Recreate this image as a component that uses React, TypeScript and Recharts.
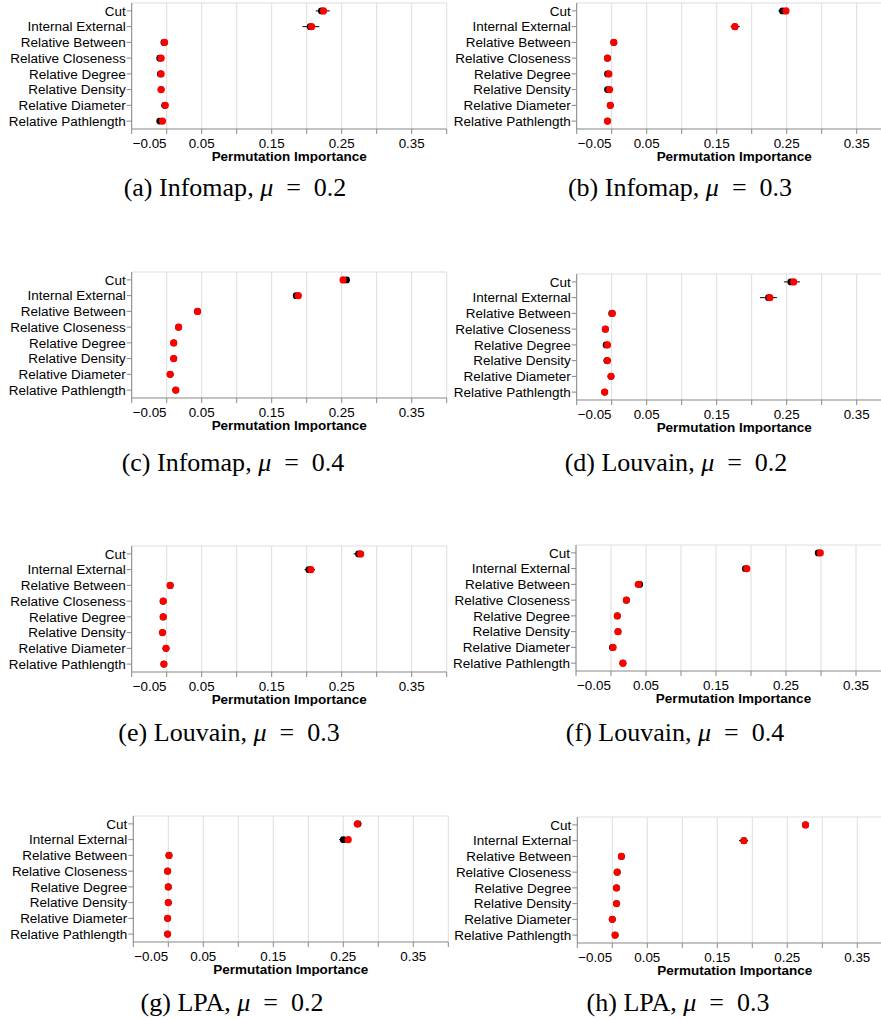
import { ScatterChart, Scatter, XAxis, YAxis, CartesianGrid, ErrorBar } from "recharts"

const features = [
  "Cut",
  "Internal External",
  "Relative Between",
  "Relative Closeness",
  "Relative Degree",
  "Relative Density",
  "Relative Diameter",
  "Relative Pathlength",
]

const xTicks = [-0.05, 0, 0.05, 0.1, 0.15, 0.2, 0.25, 0.3, 0.35, 0.4]
const xLabelTicks = [-0.05, 0.05, 0.15, 0.25, 0.35]

// (a) Infomap, mu = 0.2
const infomap02Red = [0.224, 0.207, -0.003, -0.008, -0.008, -0.008, -0.002, -0.006]
const infomap02Black = [0.221, 0.205, -0.004, -0.01, -0.009, -0.008, -0.003, -0.01]
const infomap02Low = [0.213, 0.194, -0.005, -0.011, -0.01, -0.009, -0.004, -0.011]
const infomap02High = [0.233, 0.218, -0.002, -0.008, -0.008, -0.007, -0.002, -0.008]

// (b) Infomap, mu = 0.3
const infomap03Red = [0.249, 0.176, 0.003, -0.006, -0.004, -0.003, -0.002, -0.006]
const infomap03Black = [0.244, 0.176, 0.003, -0.006, -0.006, -0.006, -0.002, -0.006]
const infomap03Low = [0.238, 0.17, 0.002, -0.007, -0.007, -0.007, -0.003, -0.007]
const infomap03High = [0.252, 0.183, 0.004, -0.005, -0.004, -0.003, -0.001, -0.005]

// (c) Infomap, mu = 0.4
const infomap04Red = [0.252, 0.188, 0.044, 0.017, 0.01, 0.01, 0.005, 0.013]
const infomap04Black = [0.257, 0.185, 0.044, 0.017, 0.01, 0.01, 0.005, 0.013]
const infomap04Low = [0.25, 0.183, 0.043, 0.016, 0.009, 0.009, 0.004, 0.012]
const infomap04High = [0.26, 0.19, 0.045, 0.018, 0.011, 0.011, 0.006, 0.014]

// (d) Louvain, mu = 0.2
const louvain02Red = [0.26, 0.226, 0.001, -0.009, -0.006, -0.006, -0.001, -0.01]
const louvain02Black = [0.256, 0.224, 0.0, -0.009, -0.008, -0.007, -0.001, -0.01]
const louvain02Low = [0.246, 0.212, -0.001, -0.01, -0.009, -0.008, -0.002, -0.011]
const louvain02High = [0.269, 0.236, 0.002, -0.008, -0.006, -0.005, 0.0, -0.009]

// (e) Louvain, mu = 0.3
const louvain03Red = [0.277, 0.206, 0.005, -0.005, -0.005, -0.006, -0.001, -0.004]
const louvain03Black = [0.274, 0.203, 0.005, -0.005, -0.005, -0.006, -0.001, -0.004]
const louvain03Low = [0.267, 0.197, 0.004, -0.006, -0.006, -0.007, -0.002, -0.005]
const louvain03High = [0.281, 0.212, 0.006, -0.004, -0.004, -0.005, 0.0, -0.003]

// (f) Louvain, mu = 0.4
const louvain04Red = [0.299, 0.194, 0.039, 0.022, 0.009, 0.01, 0.003, 0.017]
const louvain04Black = [0.296, 0.192, 0.041, 0.022, 0.009, 0.01, 0.002, 0.017]
const louvain04Low = [0.292, 0.187, 0.039, 0.021, 0.008, 0.009, 0.001, 0.016]
const louvain04High = [0.301, 0.197, 0.042, 0.023, 0.01, 0.011, 0.004, 0.018]

// (g) LPA, mu = 0.2
const lpa02Red = [0.27, 0.257, 0.001, -0.001, 0.0, 0.0, -0.001, -0.001]
const lpa02Black = [0.271, 0.25, 0.001, -0.001, 0.0, 0.0, -0.001, -0.001]
const lpa02Low = [0.265, 0.244, 0.0, -0.002, -0.001, -0.001, -0.002, -0.002]
const lpa02High = [0.276, 0.255, 0.002, 0.0, 0.001, 0.001, 0.0, 0.0]

// (h) LPA, mu = 0.3
const lpa03Red = [0.276, 0.188, 0.013, 0.007, 0.006, 0.006, 0.0, 0.004]
const lpa03Black = [0.276, 0.188, 0.013, 0.007, 0.006, 0.006, 0.0, 0.004]
const lpa03Low = [0.275, 0.181, 0.012, 0.006, 0.005, 0.005, -0.001, 0.003]
const lpa03High = [0.277, 0.194, 0.014, 0.008, 0.007, 0.007, 0.001, 0.005]

const letters = ["a", "b", "c", "d", "e", "f", "g", "h"]
const methods = ["Infomap", "Infomap", "Infomap", "Louvain", "Louvain", "Louvain", "LPA", "LPA"]
const mus = ["0.2", "0.3", "0.4", "0.2", "0.3", "0.4", "0.2", "0.3"]

const panels = [
  { red: infomap02Red, black: infomap02Black, low: infomap02Low, high: infomap02High, left: 0, plotLeft: 131.7, plotTop: 3.3, capX: 235, capY: 188 },
  { red: infomap03Red, black: infomap03Black, low: infomap03Low, high: infomap03High, left: 440, plotLeft: 576.7, plotTop: 3.3, capX: 680, capY: 188 },
  { red: infomap04Red, black: infomap04Black, low: infomap04Low, high: infomap04High, left: 0, plotLeft: 131.7, plotTop: 272, capX: 233, capY: 463 },
  { red: louvain02Red, black: louvain02Black, low: louvain02Low, high: louvain02High, left: 440, plotLeft: 576.7, plotTop: 273.8, capX: 676, capY: 463 },
  { red: louvain03Red, black: louvain03Black, low: louvain03Low, high: louvain03High, left: 0, plotLeft: 131.7, plotTop: 546, capX: 229, capY: 733 },
  { red: louvain04Red, black: louvain04Black, low: louvain04Low, high: louvain04High, left: 440, plotLeft: 576, plotTop: 545.3, capX: 675, capY: 733 },
  { red: lpa02Red, black: lpa02Black, low: lpa02Low, high: lpa02High, left: 0, plotLeft: 133.3, plotTop: 816, capX: 232, capY: 1003 },
  { red: lpa03Red, black: lpa03Black, low: lpa03Low, high: lpa03High, left: 440, plotLeft: 577.3, plotTop: 817, capX: 678, capY: 1003 },
]

const PLOT_W = 315
const PLOT_H = 126
const X_AXIS_H = 34
const FONT = "'Liberation Sans', Arial, sans-serif"

const fmt = (v: number) => (v < 0 ? "\u2212" + Math.abs(v).toFixed(2) : v.toFixed(2))

const XTick = (props: any) => {
  const { x, y, payload } = props
  if (!xLabelTicks.includes(payload.value)) return <g />
  const first = payload.value === xLabelTicks[0]
  return (
    <text x={first ? x + 1 : x} y={y} dy={12} textAnchor={first ? "start" : "middle"} fill="#000" fontSize={13.4} fontFamily={FONT}>
      {fmt(payload.value)}
    </text>
  )
}

const RedDot = (props: any) => <circle cx={props.cx} cy={props.cy} r={3.6} fill="#ff0000" />
const BlackDot = (props: any) => <circle cx={props.cx} cy={props.cy} r={3.4} fill="#000" />

function Panel({ red, black, low, high, left, plotLeft, plotTop }: any) {
  const redData = features.map((f, i) => ({ feature: f, v: red[i] }))
  const blackData = features.map((f, i) => ({ feature: f, v: black[i], err: [black[i] - low[i], high[i] - black[i]] }))
  const yAxisW = plotLeft - left
  const top = plotTop - 4
  return (
    <div style={{ position: "absolute", left, top }}>
      <ScatterChart width={yAxisW + PLOT_W + 4} height={4 + PLOT_H + X_AXIS_H} margin={{ top: 4, right: 4, bottom: 0, left: 0 }}>
        <CartesianGrid
          stroke="#dddddd"
          horizontalCoordinatesGenerator={({ offset }: any) => [offset.top]}
        />
        <XAxis
          type="number"
          dataKey="v"
          domain={[-0.05, 0.4]}
          ticks={xTicks}
          interval={0}
          height={X_AXIS_H}
          stroke="#888"
          tickSize={5}
          tickMargin={2}
          tick={<XTick />}
          label={{ value: "Permutation Importance", position: "insideBottom", offset: 2, fill: "#000", fontSize: 13.5, fontWeight: "bold", fontFamily: FONT }}
        />
        <YAxis
          type="category"
          dataKey="feature"
          allowDuplicatedCategory={false}
          reversed
          width={yAxisW}
          interval={0}
          stroke="#888"
          tickSize={5}
          tickMargin={1}
          tick={{ fill: "#000", fontSize: 13.5, fontFamily: FONT }}
        />
        <Scatter data={blackData} shape={BlackDot} isAnimationActive={false}>
          <ErrorBar dataKey="err" direction="x" width={0} stroke="#000" strokeWidth={1} />
        </Scatter>
        <Scatter data={redData} shape={RedDot} isAnimationActive={false} />
      </ScatterChart>
    </div>
  )
}

export default function App() {
  return (
    <div style={{ position: "absolute", left: 0, top: 0, width: 881, height: 1020, overflow: "hidden", background: "#fff" }}>
      {panels.map((p, i) => (
        <Panel key={i} {...p} />
      ))}
      {panels.map((p, i) => (
        <div
          key={"c" + i}
          style={{
            position: "absolute",
            left: p.capX - 200,
            top: p.capY - 15,
            width: 400,
            height: 30,
            lineHeight: "30px",
            textAlign: "center",
            fontFamily: "'Liberation Serif', 'Times New Roman', serif",
            fontSize: 26,
            color: "#000",
          }}
        >
          ({letters[i]}) {methods[i]}, <i>μ</i>&nbsp;&nbsp;=&nbsp;&nbsp;{mus[i]}
        </div>
      ))}
    </div>
  )
}
